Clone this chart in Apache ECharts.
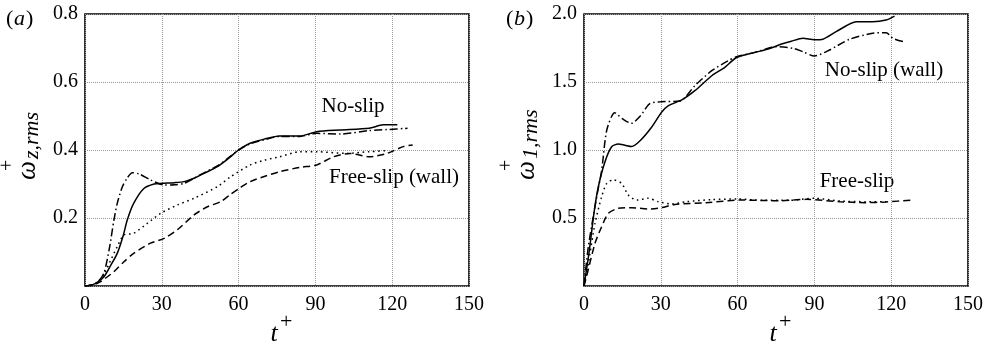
<!DOCTYPE html>
<html>
<head>
<meta charset="utf-8">
<script src="https://cdn.jsdelivr.net/npm/echarts@6/dist/echarts.min.js"></script>
<style>html,body{margin:0;padding:0;background:#fff}#c{width:987px;height:344px}</style>
</head>
<body>
<div id="c"></div>
<script>
// ---- data: [t+, value] pairs ----
const xTicks = [0, 30, 60, 90, 120, 150];
const yTicksA = [0.2, 0.4, 0.6, 0.8];
const yTicksB = [0.5, 1.0, 1.5, 2.0];

// panel (a): omega_z,rms
const aNoSlipSolid = [[0,0],[3,0.004],[5,0.012],[7.4,0.027],[10,0.06],[12.6,0.096],[15,0.15],[16.5,0.194],[19,0.243],[23,0.287],[27,0.300],[30,0.302],[35,0.304],[38.7,0.307],[42.6,0.317],[47,0.333],[51.7,0.351],[56,0.375],[60,0.40],[64.5,0.42],[70,0.432],[76,0.441],[84,0.441],[90.5,0.454],[99.6,0.459],[111,0.464],[116.5,0.474],[122,0.474]];
const aNoSlipDashDot = [[0,0],[3,0.004],[5,0.012],[7.4,0.038],[9.5,0.11],[11.3,0.194],[12.6,0.243],[14.6,0.292],[16.5,0.318],[18.5,0.333],[21,0.33],[25.6,0.312],[30.9,0.297],[35,0.298],[38.7,0.302],[42.6,0.317],[47,0.335],[51.7,0.353],[56,0.377],[60,0.40],[64.5,0.418],[70,0.430],[76,0.44],[84,0.44],[90.5,0.449],[100,0.447],[111,0.457],[118,0.46],[126,0.464]];
const aFreeSlipDotted = [[0,0],[3,0.004],[5,0.012],[7.4,0.035],[10,0.075],[12.6,0.116],[15.2,0.15],[19,0.155],[24.3,0.184],[29.6,0.214],[36,0.238],[42.6,0.258],[51.7,0.292],[56.6,0.32],[64.5,0.356],[70,0.37],[76,0.38],[84,0.395],[90.5,0.395],[102,0.39],[111,0.395],[118,0.398]];
const aFreeSlipDashed = [[0,0],[3,0.002],[6.1,0.013],[11.3,0.042],[15,0.07],[19,0.096],[25.6,0.126],[30.9,0.14],[36,0.165],[42.6,0.209],[47.8,0.233],[53,0.248],[56.6,0.268],[60.8,0.29],[64.5,0.307],[70,0.322],[76,0.336],[84,0.349],[90.5,0.356],[97,0.38],[103.5,0.39],[111,0.38],[118,0.39],[124.3,0.41],[128,0.415]];

// panel (b): omega_1,rms
const bNoSlipSolid = [[0,0],[2,0.25],[4,0.55],[5.6,0.73],[8.2,0.914],[10.8,1.024],[13.4,1.044],[16,1.035],[18.6,1.026],[21.9,1.068],[26.4,1.167],[30.3,1.277],[33,1.326],[38.2,1.368],[43.3,1.436],[49.9,1.546],[55,1.608],[59.6,1.68],[66.8,1.718],[72,1.743],[77.2,1.779],[81,1.80],[85.5,1.821],[90,1.81],[93.3,1.814],[98.5,1.87],[106.4,1.943],[112.8,1.943],[118,1.956],[121.3,1.985]];
const bNoSlipDashDot = [[0,0],[1.7,0.29],[5,0.66],[6.9,0.85],[8.9,1.147],[12,1.274],[15,1.23],[18.5,1.196],[22,1.25],[25.6,1.34],[30,1.355],[37.5,1.36],[43.3,1.473],[49.9,1.583],[56.4,1.657],[59.6,1.686],[66.8,1.718],[73.3,1.755],[75.1,1.76],[81.6,1.748],[85.5,1.723],[90,1.691],[95.9,1.735],[103.7,1.814],[112.8,1.858],[118,1.863],[120.7,1.821],[124.6,1.797]];
const bFreeSlipDotted = [[0,0],[1.7,0.167],[4.3,0.46],[6.9,0.657],[8.9,0.755],[11.5,0.78],[14.7,0.755],[17.3,0.669],[20.6,0.632],[25.1,0.645],[29,0.62],[34.2,0.603],[40,0.62],[50,0.635],[60,0.64],[70,0.63],[80,0.63],[90,0.645],[100,0.625],[110,0.62],[118,0.62]];
const bFreeSlipDashed = [[0,0],[1,0.07],[4.3,0.314],[6.9,0.436],[9.5,0.534],[13.4,0.571],[18.6,0.576],[25.1,0.566],[30.3,0.576],[35.5,0.6],[47.8,0.613],[60.8,0.632],[76.4,0.627],[86.8,0.637],[99.8,0.62],[110,0.613],[118,0.618],[128,0.632]];

const FONT = "'Liberation Serif','DejaVu Serif',serif";
const chart = echarts.init(document.getElementById('c'), null, {renderer: 'canvas'});

const styles = {
  solid: {type: 'solid'},
  dashdot: {type: [8, 3, 1.5, 3]},
  dotted: {type: [1.6, 3.6]},
  dashed: {type: [7, 4]}
};
function line(data, kind, idx) {
  return {
    type: 'line', xAxisIndex: idx, yAxisIndex: idx, data: data,
    showSymbol: false, symbol: 'none', smooth: 0.25, animation: false,
    lineStyle: Object.assign({color: '#000', width: 1.5}, styles[kind])
  };
}
function xAx(idx) {
  return {
    type: 'value', gridIndex: idx, min: 0, max: 150, interval: 30,
    axisLine: {show: false}, axisTick: {show: false},
    axisLabel: {fontFamily: FONT, fontSize: 20, color: '#000', margin: 9,
      formatter: v => xTicks.indexOf(v) >= 0 ? String(v) : ''},
    splitLine: {show: true, lineStyle: {color: '#9a9a9a', type: [1, 1], width: 1}}
  };
}
function yAx(idx, max, interval, ticks) {
  return {
    type: 'value', gridIndex: idx, min: 0, max: max, interval: interval,
    axisLine: {show: false}, axisTick: {show: false},
    axisLabel: {fontFamily: FONT, fontSize: 20, color: '#000', margin: 7,
      formatter: v => ticks.some(t => Math.abs(t - v) < 1e-9) ? v.toFixed(1) : ''},
    splitLine: {show: true, lineStyle: {color: '#9a9a9a', type: [1, 1], width: 1}}
  };
}
function txt(x, y, text, size, italic, align) {
  return {type: 'text', x: x, y: y, silent: true,
    style: {text: text, fill: '#000', font: (italic ? 'italic ' : '') + size + 'px ' + FONT,
      textAlign: align || 'left', textVerticalAlign: 'middle', align: align || 'left', verticalAlign: 'middle'}};
}
function yName(cx, cy, sub) {
  return {type: 'group', x: cx, y: cy, rotation: Math.PI / 2, silent: true, children: [
    txt(-8, 0, 'ω', 27, true, 'left'),
    txt(1, -20, '+', 20, false, 'left'),
    txt(13, 4, sub, 22, true, 'left')
  ]};
}
function tName(cx, cy) {
  return {type: 'group', x: cx, y: cy, silent: true, children: [
    txt(-3, 1, 't', 26, true, 'center'),
    txt(3, -11, '+', 22, false, 'left')
  ]};
}
function panel(x, letter) {
  return {type: 'group', x: x, y: 19, silent: true, children: [
    txt(0, 0, '(', 22, false), txt(8, 0, letter, 22, true), txt(20, 0, ')', 22, false)]};
}

chart.setOption({
  animation: false,
  grid: [
    {left: 85, top: 14, width: 384, height: 272, show: true, borderColor: '#000', borderWidth: 1.6, backgroundColor: 'transparent'},
    {left: 584, top: 14, width: 384, height: 272, show: true, borderColor: '#000', borderWidth: 1.6, backgroundColor: 'transparent'}
  ],
  xAxis: [xAx(0), xAx(1)],
  yAxis: [yAx(0, 0.8, 0.2, yTicksA), yAx(1, 2.0, 0.5, yTicksB)],
  series: [
    line(aNoSlipSolid, 'solid', 0),
    line(aNoSlipDashDot, 'dashdot', 0),
    line(aFreeSlipDotted, 'dotted', 0),
    line(aFreeSlipDashed, 'dashed', 0),
    line(bNoSlipSolid, 'solid', 1),
    line(bNoSlipDashDot, 'dashdot', 1),
    line(bFreeSlipDotted, 'dotted', 1),
    line(bFreeSlipDashed, 'dashed', 1)
  ],
  graphic: [
    panel(6, 'a'),
    panel(506, 'b'),
    yName(28, 172, 'z,rms'),
    yName(527, 172, '1,rms'),
    tName(277, 333),
    tName(776, 333),
    txt(353, 106, 'No-slip', 21, false, 'center'),
    txt(394, 177, 'Free-slip (wall)', 21, false, 'center'),
    txt(884, 70, 'No-slip (wall)', 21, false, 'center'),
    txt(857, 181, 'Free-slip', 21, false, 'center')
  ]
});
</script>
</body>
</html>
